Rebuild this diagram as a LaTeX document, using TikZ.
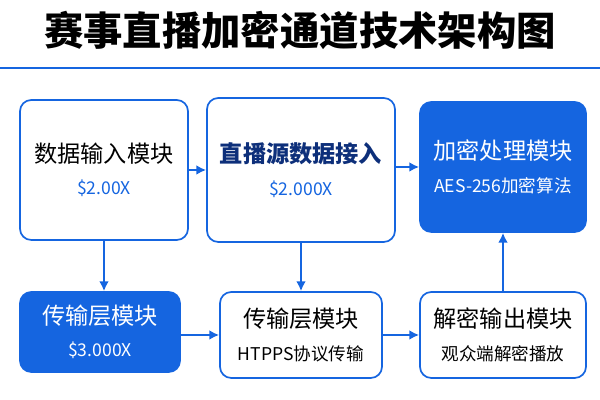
\documentclass[tikz,border=0pt]{standalone}
\usepackage{fontspec}
\setmainfont{Noto Sans CJK SC}
\usetikzlibrary{arrows.meta,positioning}
\definecolor{mainblue}{HTML}{1565E0}
\definecolor{darkblue}{HTML}{0D2F7A}
\tikzstyle{line} = [draw=mainblue, line width=1.4pt, -{Latex[length=7pt,width=7pt]}]
\tikzstyle{box} = [rectangle, rounded corners=8pt, draw=mainblue, line width=1.2pt, fill=white, align=center, font=\fontsize{16.5}{20}\selectfont]
\tikzstyle{fbox} = [box, fill=mainblue, text=white]
\newcommand{\sub}[1]{\\[3pt]{\fontsize{12.5}{14}\selectfont #1}}
\begin{document}
\begin{tikzpicture}
	\useasboundingbox (0,0) rectangle (15,10);
	\node [font=\fontsize{28}{30}\selectfont\bfseries] (title) at (7.5,9.25) {赛事直播加密通道技术架构图};
	\draw [mainblue, line width=1.2pt] (0,8.3) -- (15,8.3);
	
	\node [box, minimum width=4.2cm, minimum height=3.5cm] (input) at (2.6,5.75) {数据输入模块\sub{\textcolor{mainblue}{\$2.00X}}};
	\node [box, minimum width=4.7cm, minimum height=3.6cm, text=darkblue] (source) at (7.525,5.75) {\textbf{直播源数据接入}\sub{\textcolor{mainblue}{\$2.000X}}};
	\node [fbox, minimum width=4.15cm, minimum height=3.25cm] (encrypt) at (12.575,5.825) {加密处理模块\sub{AES-256加密算法}};
	
	\node [fbox, minimum width=4cm, minimum height=2cm] (trans1) at (2.5,1.7) {传输层模块\sub{\$3.000X}};
	\node [box, minimum width=4.05cm, minimum height=2.15cm] (trans2) at (7.525,1.625) {传输层模块\sub{HTPPS协议传输}};
	\node [box, minimum width=4.15cm, minimum height=2.15cm] (decrypt) at (12.575,1.625) {解密输出模块\sub{观众端解密播放}};
	
	\path [line] (input.east) -- (input.east -| source.west);
	\path [line] (source.east |- encrypt.west) -- (encrypt.west);
	\path [line] (input.south) -- (input.south |- trans1.north);
	\path [line] (source.south) -- (source.south |- trans2.north);
	\path [line] (trans1.east |- trans2.west) -- (trans2.west);
	\path [line] (trans2.east) -- (decrypt.west);
	\path [line] (decrypt.north) -- (encrypt.south);
\end{tikzpicture}
\end{document}
